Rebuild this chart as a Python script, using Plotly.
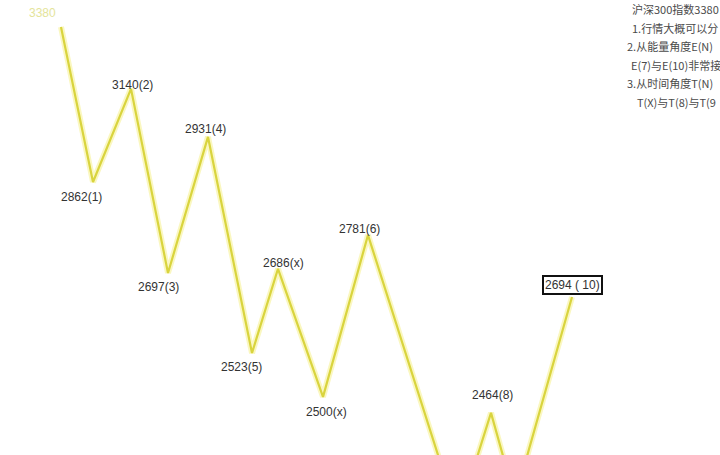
import plotly.graph_objects as go

# Wave points: time position (schematic units) and drawn level (schematic index units)
wave_t = [0, 32, 70, 107, 147, 191, 217, 262, 307, 397, 430, 454, 511]
wave_level = [3380, 3012, 3233, 2796, 3119, 2606, 2806, 2502, 2886, 2215, 2464, 2260, 2739]

# Point labels (value and wave name); None = unlabeled (off-screen)
label_text = ["3380", "2862(1)", "3140(2)", "2697(3)", "2931(4)", "2523(5)", "2686(x)",
              "2500(x)", "2781(6)", None, "2464(8)", None, "2694 ( 10)"]

# Notes in the top-right corner (visible part, cut at the image edge in the original)
note_lines = [
    "沪深300指数3380",
    "1.行情大概可以分",
    "2.从能量角度E(N)",
    "E(7)与E(10)非常接",
    "3.从时间角度T(N)",
    "T(X)与T(8)与T(9",
]

fig = go.Figure()
# soft glow under the line
fig.add_trace(go.Scatter(x=wave_t, y=wave_level, mode="lines",
                         line=dict(color="rgba(245,240,140,0.55)", width=6),
                         hoverinfo="skip", showlegend=False))
fig.add_trace(go.Scatter(x=wave_t, y=wave_level, mode="lines",
                         line=dict(color="#d9d43e", width=2.2),
                         hoverinfo="skip", showlegend=False))

# label offsets (pixels) relative to their point
shift = {"3380": (-19, 14), "2862(1)": (-12, -15), "3140(2)": (1, 4), "2697(3)": (-10, -14),
         "2931(4)": (-3, 8), "2523(5)": (-11, -14), "2686(x)": (5, 6), "2500(x)": (3, -15),
         "2781(6)": (-9, 6), "2464(8)": (1, 18), "2694 ( 10)": (0, 12)}
for t, lv, txt in zip(wave_t, wave_level, label_text):
    if txt is None:
        continue
    dx, dy = shift[txt]
    if txt == "3380":
        fig.add_annotation(x=t, y=lv, text=txt, showarrow=False, yshift=dy, xshift=dx,
                           font=dict(size=12, color="#e4e49a", family="Liberation Sans"))
    elif txt.startswith("2694"):
        fig.add_annotation(x=t, y=lv, text=txt, showarrow=False, yshift=dy, xshift=dx,
                           font=dict(size=12, color="#333333", family="Liberation Sans"),
                           bordercolor="#111111", borderwidth=2, borderpad=1, bgcolor="white")
    else:
        fig.add_annotation(x=t, y=lv, text=txt, showarrow=False, yshift=dy, xshift=dx,
                           font=dict(size=12, color="#333333", family="Liberation Sans"))

note_x = [630, 630, 625, 629, 625, 635]
for i, line in enumerate(note_lines):
    fig.add_annotation(xref="paper", yref="paper", x=note_x[i] / 720, y=1 - (9 + i * 18.6) / 455,
                       text=line, showarrow=False, xanchor="left", yanchor="middle",
                       font=dict(size=11, color="#4a4a4a", family="Noto Sans CJK SC"))

fig.update_layout(
    width=720, height=455,
    margin=dict(l=0, r=0, t=0, b=0),
    paper_bgcolor="white", plot_bgcolor="white",
    xaxis=dict(range=[-61, 659], visible=False, fixedrange=True),
    yaxis=dict(range=[2364, 3444], visible=False, fixedrange=True),
    showlegend=False,
)
fig.write_html("out.html", config={"displayModeBar": False},
               post_script="document.body.style.margin='0';")
